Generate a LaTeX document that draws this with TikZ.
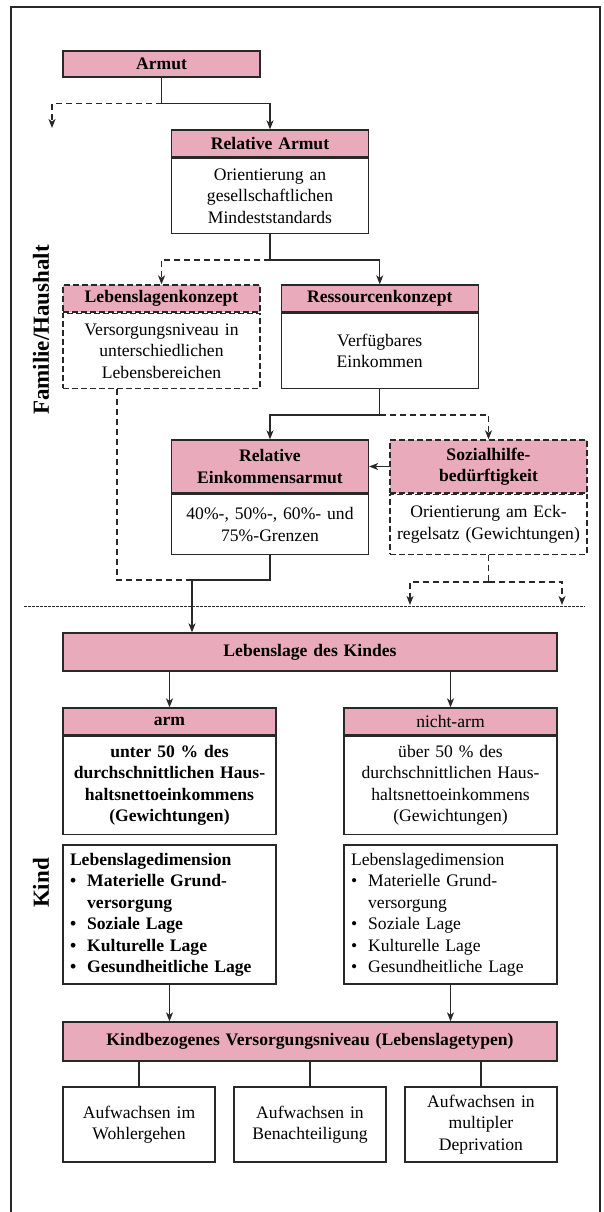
\documentclass[tikz,border=0pt]{standalone}
\usepackage{fontspec}
\setmainfont{Liberation Serif}
\usetikzlibrary{positioning,arrows.meta}

\definecolor{rosa}{RGB}{233,170,187}
\definecolor{rand}{RGB}{40,40,40}

\tikzset{
  box/.style={draw=rand, line width=1.3pt, inner xsep=4pt, inner ysep=0pt,
    text width=189pt, align=center, font=\fontsize{17.6}{21.5}\selectfont},
  headbox/.style={box, fill=rosa, font=\fontsize{17.6}{21.5}\selectfont\bfseries},
  dashbox/.style={dash pattern=on 6pt off 3pt},
  listbox/.style={box, inner xsep=7pt, text width=199pt, align=left, minimum height=139pt},
  line/.style={draw=rand, line width=1.2pt},
  conn/.style={line, -{Stealth[length=9pt,width=7pt,inset=2.5pt]}},
  dline/.style={line, dash pattern=on 6pt off 4pt},
  dconn/.style={conn, dash pattern=on 6pt off 4pt},
  sepline/.style={draw=rand, line width=0.9pt, dash pattern=on 2.5pt off 1.5pt},
  sidelabel/.style={rotate=90, font=\fontsize{23}{27}\selectfont\bfseries}
}

\begin{document}
\begin{tikzpicture}[x=1pt,y=-1pt]
\useasboundingbox (0,0) rectangle (604,1212);
\draw[draw=rand, line width=2pt] (11,1212) -- (11,7) -- (599.5,7) -- (599.5,1212);

% Familie/Haushalt
\node[headbox, minimum height=26pt] (armut) at (161.5,64) {Armut};
\node[headbox, minimum height=27pt] (relarm) at (270,143.5) {Relative Armut};
\node[box, minimum height=75pt, below=0pt of relarm] (relarmbody)
  {Orientierung an\\gesellschaftlichen\\Mindeststandards};
\node[headbox, dashbox, minimum height=27pt] (lebens) at (161.5,298.5) {Lebenslagenkonzept};
\node[box, dashbox, minimum height=75pt, below=0pt of lebens] (lebensbody)
  {Versorgungsniveau in\\unterschiedlichen\\Lebensbereichen};
\node[headbox, minimum height=27pt] (ressource) at (379.75,298.5) {Ressourcenkonzept};
\node[box, minimum height=75pt, below=0pt of ressource] (ressourcebody)
  {Verfügbares\\Einkommen};
\node[headbox, minimum height=53pt] (releink) at (270,466.5) {Relative\\Einkommensarmut};
\node[box, minimum height=60pt, below=0pt of releink] (releinkbody)
  {40\%-, 50\%-, 60\%- und\\75\%-Grenzen};
\node[headbox, dashbox, minimum height=53pt] (sozial) at (488.5,466.5) {Sozialhilfe-\\bedürftigkeit};
\node[box, dashbox, minimum height=60pt, below=0pt of sozial] (sozialbody)
  {Orientierung am Eck-\\regelsatz (Gewichtungen)};

\node[sidelabel] (famlabel) at (41,330) {Familie/Haushalt};

\coordinate (outtop) at (52,128);
\coordinate (jkind) at (192,580);
\coordinate (outa) at (410,605);
\coordinate (outb) at (562,605);

\draw[conn] (armut.south) -- ++(0,26) coordinate (jarm) -| (relarm.north);
\draw[dconn] (jarm) -| (outtop);
\draw[conn] (relarmbody.south) -- ++(0,26) coordinate (jrel) -| (ressource.north);
\draw[dconn] (jrel) -| (lebens.north);
\draw[conn] (ressourcebody.south) -- ++(0,26) coordinate (jres) -| (releink.north);
\draw[dconn] (jres) -| (sozial.north);
\draw[conn] (sozial.west) -- (releink.east);
\draw[dline] ([xshift=-44.5pt]lebensbody.south) |- (jkind);
\draw[line] (releinkbody.south) |- (jkind);
\draw[dline] (sozialbody.south) -- ++(0,27) coordinate (jsoz);
\draw[dconn] (jsoz) -| (outa);
\draw[dconn] (jsoz) -| (outb);

\draw[sepline] (24,606) -- (585,606);

% Kind
\node[headbox, text width=486pt, minimum height=38pt] (kindes) at (310,652) {Lebenslage des Kindes};
\node[headbox, text width=205pt, minimum height=27pt] (armhead) at (169.5,721.5) {arm};
\node[box, text width=205pt, minimum height=98pt, below=0pt of armhead, font=\fontsize{17.6}{21.5}\selectfont\bfseries] (armbody)
  {unter 50 \% des\\durchschnittlichen Haus-\\haltsnettoeinkommens\\(Gewichtungen)};
\node[headbox, text width=205pt, minimum height=27pt, font=\fontsize{17.6}{21.5}\selectfont] (nicharmhead) at (450.5,721.5) {nicht-arm};
\node[box, text width=205pt, minimum height=98pt, below=0pt of nicharmhead] (nicharmbody)
  {über 50 \% des\\durchschnittlichen Haus-\\haltsnettoeinkommens\\(Gewichtungen)};
\node[listbox, font=\fontsize{17.6}{21.5}\selectfont\bfseries] (armdim) at (169.5,914.5)
  {\begin{tabular}{@{}l@{\hspace{11pt}}l@{}}
   \multicolumn{2}{@{}l@{}}{Lebenslagedimension}\\
   \textbullet & Materielle Grund-\\
               & versorgung\\
   \textbullet & Soziale Lage\\
   \textbullet & Kulturelle Lage\\
   \textbullet & Gesundheitliche Lage
   \end{tabular}};
\node[listbox] (nicharmdim) at (450.5,914.5)
  {\begin{tabular}{@{}l@{\hspace{11pt}}l@{}}
   \multicolumn{2}{@{}l@{}}{Lebenslagedimension}\\
   \textbullet & Materielle Grund-\\
               & versorgung\\
   \textbullet & Soziale Lage\\
   \textbullet & Kulturelle Lage\\
   \textbullet & Gesundheitliche Lage
   \end{tabular}};
\node[headbox, text width=486pt, minimum height=39pt] (kindbez) at (310,1041.5)
  {Kindbezogenes Versorgungsniveau (Lebenslagetypen)};
\node[box, text width=144pt, minimum height=75pt] (wohl) at (139,1124.5) {Aufwachsen im\\Wohlergehen};
\node[box, text width=144pt, minimum height=75pt] (benach) at (310,1124.5) {Aufwachsen in\\Benachteiligung};
\node[box, text width=144pt, minimum height=75pt] (depriv) at (481,1124.5) {Aufwachsen in\\multipler\\Deprivation};

\node[sidelabel] (kindlabel) at (41,883) {Kind};

\draw[conn] (jkind) -- (kindes.north -| jkind);
\draw[conn] (kindes.south -| armhead.north) -- (armhead.north);
\draw[conn] (kindes.south -| nicharmhead.north) -- (nicharmhead.north);
\draw[conn] (armdim.south) -- (kindbez.north -| armdim.south);
\draw[conn] (nicharmdim.south) -- (kindbez.north -| nicharmdim.south);
\draw[line] (kindbez.south -| wohl.north) -- (wohl.north);
\draw[line] (kindbez.south -| benach.north) -- (benach.north);
\draw[line] (kindbez.south -| depriv.north) -- (depriv.north);
\end{tikzpicture}
\end{document}
